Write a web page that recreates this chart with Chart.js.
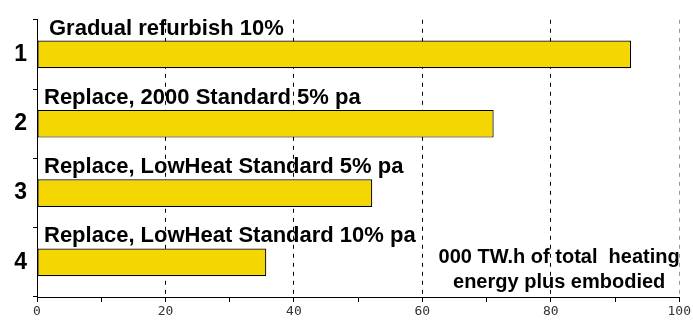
<!DOCTYPE html>
<html>
<head>
<meta charset="utf-8">
<script src="https://cdn.jsdelivr.net/npm/chart.js@4/dist/chart.umd.min.js"></script>
<style>
  body { margin: 0; background: #fff; }
  #wrap { width: 693px; height: 322px; }
</style>
</head>
<body>
<div id="wrap"><canvas id="myChart" width="693" height="322"></canvas></div>
<script>
let categories = ["1", "2", "3", "4"];
let barLabels = [
    "Gradual refurbish 10%",
    "Replace, 2000 Standard 5% pa",
    "Replace, LowHeat Standard 5% pa",
    "Replace, LowHeat Standard 10% pa"
];
let values = [92.5, 71.1, 52.2, 35.7];
let xTicks = [0, 20, 40, 60, 80, 100];
let noteLines = ["000 TW.h of total  heating", "energy plus embodied"];

const boldFont = "'Liberation Sans', Arial, sans-serif";

// text above each bar and the unit note, placed from the scales
const textPlugin = {
    id: "barText",
    afterDraw(chart) {
        const ctx = chart.ctx;
        const x = chart.scales.x, y = chart.scales.y;
        ctx.save();
        ctx.fillStyle = "#000";
        ctx.textBaseline = "middle";
        ctx.textAlign = "left";
        ctx.font = "bold 22px " + boldFont;
        barLabels.forEach((t, i) => {
            const px = x.getPixelForValue(0) + (i === 0 ? 12 : 7);
            ctx.fillText(t, px, y.getPixelForValue(i) - 26);
        });
        ctx.font = "bold 20px " + boldFont;
        ctx.textAlign = "center";
        const nx = x.getPixelForValue(81.3);
        const ny = y.getPixelForValue(3);
        ctx.fillText(noteLines[0], nx, ny - 5);
        ctx.fillText(noteLines[1], nx, ny + 20);
        ctx.restore();
    }
};

new Chart(document.getElementById("myChart"), {
    type: "bar",
    data: {
        labels: categories,
        datasets: [
            {
                data: values,
                backgroundColor: "#F4D700",
                borderColor: "#000",
                borderWidth: 1.2,
                borderSkipped: false,
                barPercentage: 0.4,
                categoryPercentage: 1.0
            }
        ]
    },
    options: {
        indexAxis: "y",
        responsive: false,
        animation: false,
        layout: { padding: { top: 17, right: 12, left: 0, bottom: 0 } },
        plugins: {
            legend: { display: false },
            title: { display: false },
            tooltip: { enabled: false }
        },
        scales: {
            x: {
                min: 0,
                max: 100,
                afterFit: s => { s.height = 25; },
                afterBuildTicks: s => {
                    let t = [];
                    for (let v = 0; v <= 100; v += 10) t.push({ value: v });
                    s.ticks = t;
                },
                ticks: {
                    autoSkip: false,
                    maxRotation: 0,
                    padding: 2,
                    color: "#333",
                    font: { family: "'DejaVu Sans Mono', monospace", size: 13 },
                    callback: v => xTicks.includes(v) ? String(v) : ""
                },
                grid: {
                    color: c => {
                        const v = c.tick ? c.tick.value : 0;
                        if (v === 0 || !xTicks.includes(v)) return "rgba(0,0,0,0)";
                        return v === 100 ? "#999" : "#000";
                    },
                    lineWidth: 1,
                    tickColor: "#000",
                    tickLength: 5,
                    tickBorderDash: []
                },
                border: { display: true, color: "#000", width: 1, dash: [4, 5] }
            },
            y: {
                afterFit: s => { s.width = 37; },
                ticks: {
                    padding: 6,
                    color: "#000",
                    font: { family: boldFont, size: 23, weight: "bold" }
                },
                grid: {
                    offset: true,
                    drawOnChartArea: false,
                    tickColor: "#000",
                    tickLength: 4
                },
                border: { display: true, color: "#000", width: 1 }
            }
        }
    },
    plugins: [textPlugin]
});
</script>
</body>
</html>
